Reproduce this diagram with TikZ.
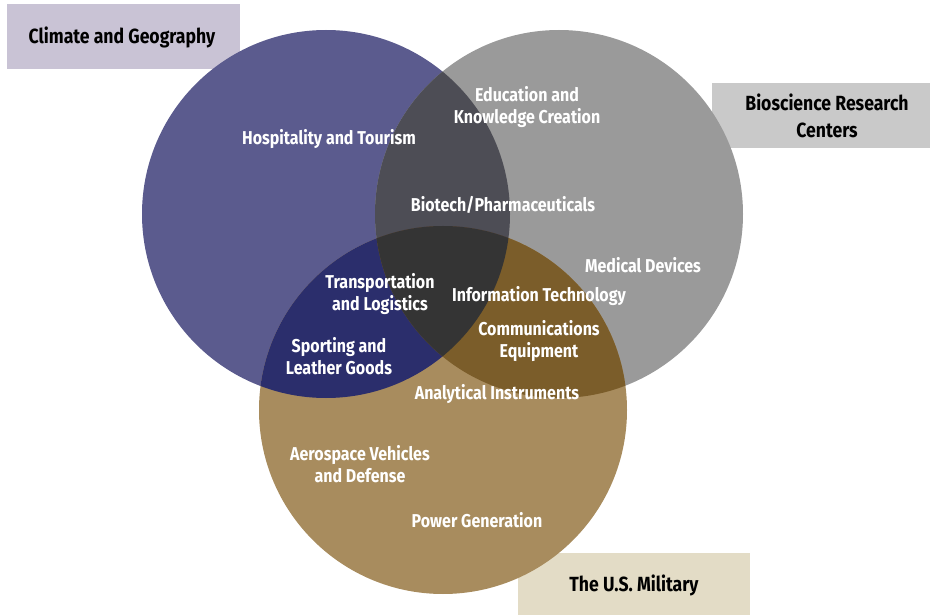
\documentclass[tikz,border=0pt]{standalone}
\usepackage{fontspec}
\setmainfont[FakeStretch=0.86]{Fira Sans}
\definecolor{cblue}{HTML}{5B5B8E}
\definecolor{cgray}{HTML}{9A9A9A}
\definecolor{cgold}{HTML}{A88C5E}
\definecolor{cbg}{HTML}{4D4D55}
\definecolor{cbo}{HTML}{2B2E6C}
\definecolor{cgo}{HTML}{7B5D2A}
\definecolor{call}{HTML}{343434}
\definecolor{boxA}{HTML}{C9C3D5}
\definecolor{boxB}{HTML}{C9C9C9}
\definecolor{boxC}{HTML}{E3DCC6}
\tikzset{
  lab/.style={text=white, font=\bfseries\fontsize{18.6}{22.5}\selectfont, align=center, inner sep=0pt},
  cat/.style={text=black, font=\bfseries\fontsize{20.5}{27}\selectfont, align=center, inner sep=0pt}
}
\begin{document}
\begin{tikzpicture}[x=1pt,y=-1pt]
\useasboundingbox (0,0) rectangle (930,615);
% category boxes
\fill[boxA] (7,4) rectangle (240,69);
\fill[boxB] (712,83) rectangle (930,148);
\fill[boxC] (518,553) rectangle (750,615);
% circles
\def\CB{(326,214) circle[radius=184pt]}
\def\CG{(559,214) circle[radius=184pt]}
\def\CO{(443,410) circle[radius=184pt]}
\fill[cblue] \CB;
\fill[cgray] \CG;
\fill[cgold] \CO;
\begin{scope}\clip \CB; \fill[cbg] \CG; \end{scope}
\begin{scope}\clip \CB; \fill[cbo] \CO; \end{scope}
\begin{scope}\clip \CG; \fill[cgo] \CO; \end{scope}
\begin{scope}\clip \CB; \clip \CG; \fill[call] \CO; \end{scope}
% category labels
\node[cat] (climate) at (122,37) {Climate and Geography};
\node[cat] (bio) at (827,116) {Bioscience Research\\Centers};
\node[cat] (mil) at (634,585) {The U.S. Military};
% cluster labels
\node[lab] (hosp) at (329,139) {Hospitality and Tourism};
\node[lab] (edu) at (527,107) {Education and\\Knowledge Creation};
\node[lab] (biot) at (503,205) {Biotech/Pharmaceuticals};
\node[lab] (med) at (643,265) {Medical Devices};
\node[lab] (trans) at (380,294) {Transportation\\and Logistics};
\node[lab] (it) at (539,296) {Information Technology};
\node[lab] (comm) at (539,341) {Communications\\Equipment};
\node[lab] (sport) at (339,356) {Sporting and\\Leather Goods};
\node[lab] (anal) at (497,394) {Analytical Instruments};
\node[lab] (aero) at (360,464) {Aerospace Vehicles\\and Defense};
\node[lab] (power) at (477,520) {Power Generation};
\end{tikzpicture}
\end{document}
